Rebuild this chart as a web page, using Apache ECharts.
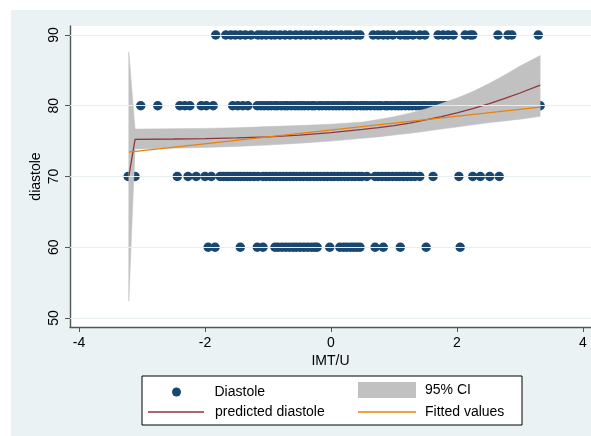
<!DOCTYPE html>
<html>
<head>
<meta charset="utf-8">
<script src="https://cdn.jsdelivr.net/npm/echarts@6/dist/echarts.min.js"></script>
<style>
  html, body { margin: 0; padding: 0; background: #ffffff; }
  #chart { position: absolute; left: 11px; top: 10px; width: 580px; height: 426px; }
</style>
</head>
<body>
<div id="chart"></div>
<script>
// ---- data ----
const xTicks = [-4, -2, 0, 2, 4];
const yTicks = [50, 60, 70, 80, 90];

// IMT/U values of observations at each diastole level
const imt90 = [-1.83, -1.67, -1.59, -1.52, -1.44, -1.36, -1.27, -1.16, -1.10, -1.03, -0.95, -0.89, -0.81,
  -0.73, -0.65, -0.56, -0.48, -0.40, -0.33, -0.24, -0.16, -0.08, 0.00, 0.08, 0.16, 0.24, 0.30, 0.40, 0.46,
  0.67, 0.75, 0.83, 0.90, 0.98, 1.10, 1.17, 1.22, 1.30, 1.41, 1.49, 1.70, 1.78, 1.86, 1.94, 2.13, 2.21,
  2.25, 2.65, 2.81, 2.87, 3.29];
const imt80 = [-3.02, -2.75, -2.40, -2.32, -2.24, -2.06, -1.98, -1.87, -1.56, -1.48, -1.40, -1.32,
  -1.17, -1.11, -1.06, -1.00, -0.95, -0.89, -0.85, -0.79, -0.73, -0.69, -0.63, -0.57, -0.52, -0.47,
  -0.42, -0.36, -0.30, -0.26, -0.19, -0.14, -0.08, -0.03, 0.03, 0.08, 0.13, 0.19, 0.25, 0.30, 0.35,
  0.41, 0.47, 0.52, 0.57, 0.63, 0.69, 0.74, 0.79, 0.86, 0.90, 0.96, 1.02, 1.07, 1.12, 1.18, 1.24,
  1.29, 1.35, 1.40, 1.46, 1.51, 1.57, 1.62, 1.67, 1.73, 1.79, 1.85, 2.02, 2.31, 3.32];
const imt70 = [-3.22, -3.11, -2.44, -2.27, -2.14, -2.00, -1.90, -1.76, -1.71, -1.66, -1.62, -1.57,
  -1.52, -1.47, -1.43, -1.38, -1.33, -1.28, -1.22, -1.16, -1.08, -1.03, -0.97, -0.92, -0.87, -0.81,
  -0.76, -0.71, -0.65, -0.60, -0.55, -0.49, -0.44, -0.38, -0.33, -0.27, -0.22, -0.17, -0.11, -0.06,
  0.00, 0.05, 0.11, 0.16, 0.22, 0.27, 0.33, 0.38, 0.44, 0.49, 0.57, 0.70, 0.75, 0.81, 0.87, 0.92,
  0.98, 1.04, 1.09, 1.15, 1.21, 1.27, 1.33, 1.41, 1.62, 2.03, 2.25, 2.37, 2.52, 2.67];
const imt60 = [-1.95, -1.84, -1.44, -1.17, -1.08, -0.89, -0.84, -0.78, -0.72, -0.66, -0.60, -0.55,
  -0.49, -0.43, -0.37, -0.31, -0.26, -0.22, -0.02, 0.14, 0.20, 0.25, 0.31, 0.36, 0.41, 0.46, 0.70,
  0.83, 1.10, 1.51, 2.05];

// fractional-polynomial prediction and its 95% CI
const predX  = [-3.21, -3.11, -2.5, -2.0, -1.5, -1.0, -0.5, 0.0, 0.5, 0.75, 1.0, 1.25, 1.5, 1.75, 2.0, 2.25, 2.5, 2.75, 3.0, 3.32];
const predY  = [70.0, 75.25, 75.3, 75.35, 75.45, 75.6, 75.85, 76.2, 76.65, 76.9, 77.2, 77.55, 78.0, 78.45, 79.0, 79.6, 80.25, 81.0, 81.8, 82.9];
const ciLow  = [52.4, 73.9, 74.0, 74.1, 74.25, 74.45, 74.7, 75.0, 75.4, 75.6, 75.85, 76.1, 76.4, 76.7, 77.0, 77.3, 77.6, 77.85, 78.1, 78.5];
const ciHigh = [87.6, 76.7, 76.75, 76.8, 76.9, 77.05, 77.2, 77.4, 77.7, 78.05, 78.45, 78.95, 79.55, 80.3, 81.1, 82.0, 83.1, 84.3, 85.6, 87.1];

// linear fit endpoints
const fitX = [-3.21, 3.32];
const fitY = [73.45, 79.8];

// ---- build chart ----
const FONT = 'Liberation Sans, Arial, sans-serif';
const scatterData = []
  .concat(imt90.map(x => [x, 90]))
  .concat(imt80.map(x => [x, 80]))
  .concat(imt70.map(x => [x, 70]))
  .concat(imt60.map(x => [x, 60]));
const bandData = predX.map((x, i) => [x, ciLow[i], ciHigh[i]]);
const predData = predX.map((x, i) => [x, predY[i]]);
const fitData = fitX.map((x, i) => [x, fitY[i]]);

const chart = echarts.init(document.getElementById('chart'), null, { renderer: 'canvas' });
const axisColor = '#555555';
const legendText = { fontFamily: FONT, fontSize: 14, color: '#000', lineHeight: 16 };
const RED = '#90353b', ORANGE = '#e8820c', NAVY = '#1a476f', GRAY = '#c1c1c1';

chart.setOption({
  backgroundColor: '#eaf2f3',
  animation: false,
  textStyle: { fontFamily: FONT },
  grid: { left: 59, top: 16, right: 0, bottom: 109, show: true, backgroundColor: '#ffffff', borderWidth: 0 },
  xAxis: {
    type: 'value', min: -4.143, max: 4.127,
    name: 'IMT/U', nameLocation: 'middle', nameGap: 27, nameMoveOverlap: false,
    nameTextStyle: { fontFamily: FONT, fontSize: 14, color: '#000' },
    axisLine: { show: true, onZero: false, lineStyle: { color: axisColor, width: 1.4 } },
    axisTick: { show: true, length: 5, customValues: xTicks, lineStyle: { color: axisColor, width: 1 } },
    axisLabel: { customValues: xTicks, margin: 9, fontFamily: FONT, fontSize: 14, color: '#000' },
    splitLine: { show: false }
  },
  yAxis: {
    type: 'value', min: 48.73, max: 91.27,
    name: 'diastole', nameLocation: 'middle', nameGap: 27, nameRotate: 90, nameMoveOverlap: false,
    nameTextStyle: { fontFamily: FONT, fontSize: 14, color: '#000' },
    axisLine: { show: true, onZero: false, lineStyle: { color: axisColor, width: 1.4 } },
    axisTick: { show: true, length: 5, customValues: yTicks, lineStyle: { color: axisColor, width: 1 } },
    axisLabel: { customValues: yTicks, rotate: 90, margin: 9, fontFamily: FONT, fontSize: 14, color: '#000' },
    splitLine: { show: false }
  },
  graphic: [{
    type: 'rect', z: 1, silent: true,
    shape: { x: 131, y: 366, width: 380, height: 49 },
    style: { fill: '#ffffff', stroke: '#000000', lineWidth: 1 }
  }],
  legend: [
    { data: [{ name: 'Diastole', icon: 'circle', itemStyle: { color: NAVY } }], left: 161, top: 374, itemWidth: 58, itemHeight: 9,
      selectedMode: false, padding: 0, z: 5, textStyle: Object.assign({ padding: [0, 0, 0, 4] }, legendText) },
    { data: [{ name: 'predicted diastole', icon: 'rect', itemStyle: { color: RED } }], left: 137, top: 394, itemWidth: 56, itemHeight: 1.3,
      selectedMode: false, padding: 0, z: 5, textStyle: Object.assign({ padding: [0, 0, 0, 6] }, legendText) },
    { data: [{ name: '95% CI', icon: 'rect', itemStyle: { color: GRAY } }], left: 347, top: 372, itemWidth: 58, itemHeight: 16,
      selectedMode: false, padding: 0, z: 5, textStyle: Object.assign({ padding: [0, 0, 0, 4] }, legendText) },
    { data: [{ name: 'Fitted values', icon: 'rect', itemStyle: { color: ORANGE } }], left: 347, top: 394, itemWidth: 58, itemHeight: 1.3,
      selectedMode: false, padding: 0, z: 5, textStyle: Object.assign({ padding: [0, 0, 0, 4] }, legendText) }
  ],
  series: [
    {
      type: 'line', name: 'gridlines', z: 1, silent: true, data: [], symbol: 'none',
      markLine: {
        silent: true, symbol: 'none', label: { show: false }, animation: false,
        lineStyle: { color: '#e6eef0', width: 1.2, type: 'solid' },
        data: yTicks.map(v => ({ yAxis: v }))
      }
    },
    {
      type: 'scatter', name: 'Diastole', z: 2, data: scatterData,
      symbol: 'circle', symbolSize: 9.5,
      itemStyle: { color: NAVY, opacity: 1 }
    },
    {
      type: 'custom', name: '95% CI', z: 3, data: bandData,
      encode: { x: 0, y: [1, 2] },
      itemStyle: { color: GRAY },
      renderItem: function (params, api) {
        if (params.dataIndex !== 0) return null;
        const pts = [];
        for (let i = 0; i < bandData.length; i++) pts.push(api.coord([bandData[i][0], bandData[i][2]]));
        for (let i = bandData.length - 1; i >= 0; i--) pts.push(api.coord([bandData[i][0], bandData[i][1]]));
        return { type: 'polygon', shape: { points: pts }, style: { fill: GRAY, stroke: GRAY, lineWidth: 0.5 } };
      }
    },
    {
      type: 'line', name: 'predicted diastole', z: 4, data: predData,
      symbol: 'none', smooth: false, lineStyle: { color: RED, width: 1.3 }, itemStyle: { color: RED }
    },
    {
      type: 'line', name: 'Fitted values', z: 5, data: fitData,
      symbol: 'none', lineStyle: { color: ORANGE, width: 1.3 }, itemStyle: { color: ORANGE }
    }
  ]
});
</script>
</body>
</html>
